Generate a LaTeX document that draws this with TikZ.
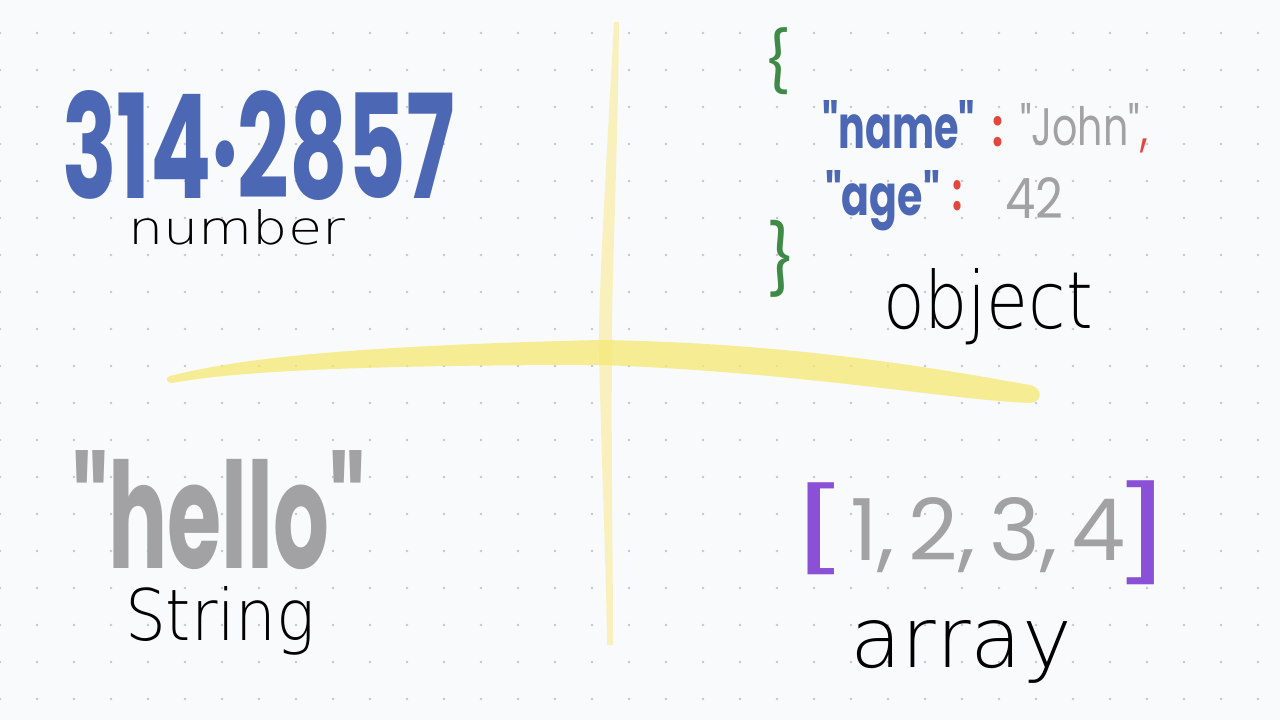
\documentclass[tikz,border=0pt]{standalone}
\usepackage{fontspec}
\usepackage{graphicx}
\newfontfamily\markerfont{Poppins}
\newfontfamily\thinfont{DejaVu Sans ExtraLight}
\definecolor{bgc}{HTML}{F9FAFC}
\definecolor{dotc}{HTML}{C6C7CC}
\definecolor{inkblue}{HTML}{4C68B4}
\definecolor{inkgrey}{HTML}{A2A2A5}
\definecolor{inkred}{HTML}{E2463C}
\definecolor{inkgreen}{HTML}{3F8A47}
\definecolor{inkpurple}{HTML}{8A50D6}
\definecolor{hlyellow}{HTML}{F4E872}
\definecolor{hlpale}{HTML}{F8F0B4}
\newcommand\fitbox[3]{\resizebox{#1pt}{#2pt}{#3}}
\newcommand\fitboxt[3]{\resizebox*{#1pt}{#2pt}{#3}}
\newcommand\nodepth[1]{\raisebox{0pt}[\height][0pt]{#1}}
\tikzset{
  lbl/.style={inner sep=0pt, outer sep=0pt, anchor=north west},
}
\begin{document}
\begin{tikzpicture}[x=1pt,y=-1pt]
\useasboundingbox (0,0) rectangle (1280,720);
\fill[bgc] (0,0) rectangle (1280,720);
% dot grid
\foreach \i in {0,...,34} {
  \foreach \j in {0,...,18} {
    \fill[dotc] ({37*\i},{33+37*\j}) circle (1.3);
  }
}
% highlighter cross
\fill[hlpale, opacity=0.85] (614,22) .. controls (607,150) and (598,300) .. (599,350)
   .. controls (601,450) and (606,560) .. (607,645)
   -- (613,645) .. controls (613,560) and (611,450) .. (612,350)
   .. controls (611,300) and (618,150) .. (619,22) -- cycle;
\fill[hlyellow, opacity=0.75] (170,376) .. controls (220,364) and (300,347) .. (600,340)
   .. controls (800,343) and (950,371) .. (1030,385)
   .. controls (1043,388) and (1043,402) .. (1030,403)
   .. controls (950,400) and (800,372) .. (600,365)
   .. controls (350,365) and (230,372) .. (172,383)
   .. controls (166,383) and (165,378) .. (170,376) -- cycle;
% number
\node[lbl, text=inkblue] (num) at (62,90) {\nodepth{\fitbox{393}{108}{\markerfont\bfseries 314\raisebox{0.22em}{.}2857}}};
\node[lbl] (numlbl) at (128,209) {\fitbox{217}{35}{\thinfont number}};
% object
\node[lbl, text=inkgreen] (lbrace) at (763,28) {\fitboxt{28}{67}{\markerfont\{}};
\node[lbl, text=inkblue] (kname) at (822,100) {\fitbox{153}{48}{\markerfont\bfseries "name"}};
\node[lbl, text=inkred] (c1) at (992,116) {\fitbox{11}{30}{\markerfont\bfseries :}};
\node[lbl, text=inkgrey] (vjohn) at (1020,103) {\fitbox{128}{42}{\markerfont "John"\textcolor{inkred}{,}}};
\node[lbl, text=inkblue] (kage) at (825,170) {\fitbox{115}{45}{\markerfont\bfseries "age"}};
\node[lbl, text=inkred] (c2) at (952,180) {\fitbox{10}{30}{\markerfont\bfseries :}};
\node[lbl, text=inkgrey] (v42) at (1005,177) {\fitbox{58}{41}{\markerfont 42}};
\node[lbl, text=inkgreen] (rbrace) at (766,220) {\fitboxt{30}{77}{\markerfont\}}};
\node[lbl] (objlbl) at (883,268) {\fitbox{210}{60}{\thinfont object}};
% string
\node[lbl, text=inkgrey] (hello) at (72,450) {\nodepth{\fitbox{293}{118}{\markerfont\bfseries "hello"}}};
\node[lbl] (strlbl) at (125,586) {\fitbox{190}{54}{\thinfont String}};
% array
\node[lbl, text=inkpurple] (lbrack) at (788,483) {\fitboxt{62}{92}{\markerfont [}};
\node[lbl, text=inkgrey] (elems) at (850,497) {\fitbox{276}{63}{\markerfont 1,\,2,\,3,\,4}};
\node[lbl, text=inkpurple] (rbrack) at (1110,481) {\fitboxt{64}{104}{\markerfont ]}};
\node[lbl] (arrlbl) at (850,620) {\fitbox{222}{47}{\thinfont array}};
\end{tikzpicture}
\end{document}
